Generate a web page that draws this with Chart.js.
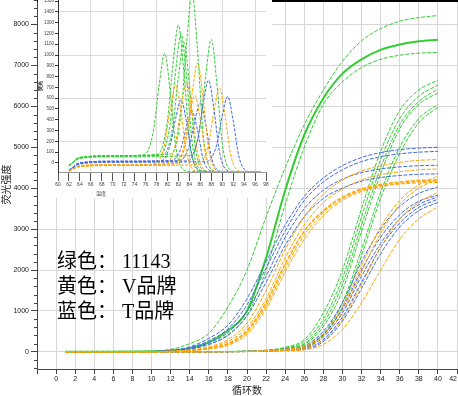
<!DOCTYPE html>
<html>
<head>
<meta charset="utf-8">
<title>扩增曲线</title>
<script src="https://cdn.jsdelivr.net/npm/chart.js@4.4.1/dist/chart.umd.min.js"></script>
<style>
  body { margin: 0; background: #fff; }
  #box { position: relative; width: 458px; height: 396px; overflow: hidden; }
  #main { position: absolute; left: 0; top: 0; }
  #inset { position: absolute; left: 38px; top: 0; }
  #note { position: absolute; left: 57px; top: 249px; font-size: 20px; line-height: 25px;
          font-family: "Liberation Serif", "Noto Sans CJK SC", serif; color: #000; white-space: pre; }
</style>
</head>
<body>
<div id="box">
  <canvas id="main" width="458" height="396"></canvas>
  <canvas id="inset" width="234" height="198"></canvas>
  <div id="note">绿色： 11143
黄色： V品牌
蓝色： T品牌</div>
</div>
<script>
// amplification curves, values read at these cycles
var cycles = [1, 10, 12, 14, 16, 18, 20, 22, 24, 26, 28, 30, 32, 34, 36, 38, 40];

var greenEarly1 = [0, 20, 60, 200, 450, 1100, 2000, 3300, 4500, 5550, 6400, 7100, 7600, 7900, 8080, 8170, 8220];
var greenEarly2 = [0, 10, 30, 90, 230, 520, 1000, 2300, 3950, 5300, 6200, 6800, 7150, 7380, 7510, 7590, 7630];
var greenEarly3 = [0, 10, 25, 70, 180, 420, 900, 2000, 3600, 5000, 6050, 6600, 6950, 7150, 7250, 7300, 7320];

var blueEarly1 = [0, 10, 40, 120, 330, 650, 1300, 2200, 3100, 3800, 4250, 4550, 4750, 4870, 4940, 4980, 5000];
var blueEarly2 = [0, 8, 30, 100, 270, 560, 1150, 2050, 2950, 3700, 4150, 4450, 4650, 4770, 4840, 4880, 4900];
var blueEarly3 = [0, 6, 25, 80, 220, 470, 1000, 1850, 2800, 3500, 3950, 4220, 4380, 4470, 4520, 4550, 4560];
var blueEarly4 = [0, 5, 20, 65, 180, 400, 880, 1700, 2600, 3300, 3750, 4000, 4170, 4260, 4310, 4340, 4350];

var orangeEarly1 = [0, 4, 15, 45, 120, 300, 700, 1500, 2500, 3300, 3850, 4200, 4420, 4550, 4630, 4680, 4700];
var orangeEarly2 = [0, 4, 12, 40, 100, 250, 600, 1300, 2300, 3100, 3650, 3980, 4200, 4330, 4400, 4450, 4470];
var orangeEarly3 = [0, 3, 10, 35, 90, 200, 520, 1200, 2150, 2950, 3450, 3780, 3980, 4090, 4150, 4190, 4200];
var orangeEarly4 = [0, 3, 10, 30, 80, 180, 480, 1120, 2050, 2850, 3400, 3740, 3950, 4060, 4120, 4160, 4170];
var orangeEarly5 = [0, 2, 8, 25, 70, 160, 430, 1050, 1950, 2750, 3330, 3700, 3920, 4040, 4100, 4130, 4140];

var greenLate1 = [0, 0, 0, 0, 5, 10, 20, 40, 110, 300, 950, 2000, 3500, 4900, 5900, 6400, 6640];
var greenLate2 = [0, 0, 0, 0, 4, 8, 15, 35, 90, 250, 800, 1800, 3300, 4700, 5700, 6250, 6520];
var greenLate3 = [0, 0, 0, 0, 3, 6, 12, 30, 80, 200, 700, 1650, 3100, 4500, 5550, 6120, 6420];
var greenLate4 = [0, 0, 0, 0, 3, 6, 12, 28, 70, 180, 620, 1500, 2950, 4350, 5450, 6050, 6330];
var greenLate5 = [0, 0, 0, 0, 2, 5, 10, 22, 50, 120, 450, 1200, 2500, 3900, 5000, 5700, 6050];
var greenLate6 = [0, 0, 0, 0, 2, 4, 8, 20, 45, 100, 400, 1100, 2350, 3750, 4850, 5600, 5980];

var blueLate1 = [0, 0, 0, 0, 3, 6, 12, 30, 70, 150, 500, 1200, 2200, 3000, 3550, 3870, 4030];
var blueLate2 = [0, 0, 0, 0, 2, 5, 10, 25, 60, 120, 420, 1050, 2000, 2800, 3350, 3680, 3830];
var blueLate3 = [0, 0, 0, 0, 2, 4, 8, 20, 50, 100, 360, 950, 1850, 2650, 3250, 3600, 3790];
var blueLate4 = [0, 0, 0, 0, 2, 4, 8, 18, 40, 80, 300, 850, 1700, 2550, 3150, 3530, 3730];
var blueLate5 = [0, 0, 0, 0, 1, 3, 6, 15, 35, 60, 250, 750, 1550, 2400, 3050, 3450, 3650];

var orangeLate1 = [0, 0, 0, 0, 3, 6, 12, 28, 65, 140, 450, 1100, 2100, 3050, 3700, 4080, 4300];
var orangeLate2 = [0, 0, 0, 0, 2, 5, 10, 24, 55, 110, 380, 980, 1950, 2900, 3600, 4000, 4230];
var orangeLate3 = [0, 0, 0, 0, 2, 4, 8, 18, 40, 80, 280, 800, 1650, 2550, 3250, 3650, 3900];
var orangeLate4 = [0, 0, 0, 0, 1, 2, 5, 12, 25, 50, 180, 550, 1200, 2000, 2750, 3250, 3545];

var yTicks = [0, 1000, 2000, 3000, 4000, 5000, 6000, 7000, 8000];
var insetYTicks = [0, 100, 200, 300, 400, 500, 600, 700, 800, 900, 1000, 1100, 1200, 1300, 1400, 1500];

// melt peaks in the inset, [temperature, value]
var meltGreen1 = [[62,-25],[64,50],[70,65],[75.5,75],[76.5,120],[77.5,320],[78.5,730],[79.5,1015],[80.5,660],[81.5,160],[82.5,-40],[84,-78],[97,-82]];
var meltGreen2 = [[62,-25],[64,50],[70,65],[78,78],[79,140],[80,395],[81,915],[82,1275],[83,840],[84,215],[85,-30],[86.5,-80],[97,-82]];
var meltGreen3 = [[62,-26],[64,46],[70,61],[78.5,72],[79.5,130],[80.5,367],[81.5,856],[82.5,1196],[83.5,786],[84.5,198],[85.5,-33],[87,-80],[97,-82]];
var meltGreen4 = [[62,-24],[64,51],[70,66],[79,76],[80,129],[81,349],[82,801],[83,1116],[84,732],[85,180],[86,-36],[87.5,-80],[97,-82]];
var meltGreen5 = [[62,-24],[64,51],[70,66],[80.5,81],[81.5,156],[82.5,471],[83.5,1116],[84.5,1566],[85.5,1038],[86.5,279],[87.5,-18],[89,-79],[97,-82]];
var meltGreen6 = [[62,-29],[64,42],[70,56],[84,67],[85,121],[86,350],[87,819],[88,1146],[89,752],[90,187],[91,-35],[92.5,-80],[97,-82]];
var meltOrange1 = [[62,-74],[64,-29],[70,-19],[77.5,-12],[78.5,25],[79.5,179],[80.5,496],[81.5,716],[82.5,460],[83.5,92],[84.5,-52],[86,-81],[97,-82]];
var meltOrange2 = [[62,-74],[64,-29],[70,-19],[79.5,-11],[80.5,27],[81.5,188],[82.5,517],[83.5,746],[84.5,480],[85.5,99],[86.5,-51],[88,-81],[97,-82]];
var meltOrange3 = [[62,-76],[64,-34],[70,-24],[81,-17],[82,15],[83,152],[84,431],[85,626],[86,399],[87,72],[88,-56],[89.5,-82],[97,-82]];
var meltOrange4 = [[62,-72],[64,-24],[70,-14],[81.5,-5],[82.5,42],[83.5,240],[84.5,644],[85.5,926],[86.5,603],[87.5,138],[88.5,-44],[90,-81],[97,-82]];
var meltOrange5 = [[62,-76],[64,-34],[70,-24],[85.5,-17],[86.5,19],[87.5,170],[88.5,480],[89.5,696],[90.5,446],[91.5,88],[92.5,-53],[94,-82],[97,-82]];
var meltBlue1 = [[62,-69],[64,-4],[70,11],[78.5,17],[79.5,46],[80.5,166],[81.5,414],[82.5,586],[83.5,372],[84.5,63],[85.5,-57],[87,-82],[97,-82]];
var meltBlue2 = [[62,-69],[64,1],[70,16],[82,21],[83,48],[84,162],[85,394],[86,556],[87,351],[88,57],[89,-58],[90.5,-82],[97,-82]];
var meltBlue3 = [[62,-69],[64,-4],[70,11],[83.5,19],[84.5,56],[85.5,215],[86.5,540],[87.5,766],[88.5,494],[89.5,103],[90.5,-50],[92,-81],[97,-82]];
var meltBlue4 = [[62,-70],[64,-9],[70,6],[87,12],[88,43],[89,171],[90,433],[91,616],[92,392],[93,70],[94,-56],[95.5,-82],[97,-82]];
var meltBlue5 = [[62,-69],[64,1],[70,16],[80.5,21],[81.5,44],[82.5,140],[83.5,338],[84.5,476],[85.5,297],[86.5,39],[87.5,-62],[89,-82],[97,-82]];

var GREEN = '#33cc33', ORANGE = '#ffa500', BLUE = '#4169e1';

Chart.defaults.font.family = '"Liberation Sans", Arial, sans-serif';
Chart.defaults.color = '#222';

function curve(vals, color, width, dash) {
    return {
        data: cycles.map(function(c, i) { return {x: c, y: vals[i]}; }),
        borderColor: color,
        borderWidth: width,
        borderDash: dash,
        pointRadius: 0,
        fill: false,
        cubicInterpolationMode: 'monotone'
    };
}

function meltCurve(pairs, color) {
    return {
        data: pairs,
        borderColor: color,
        borderWidth: 1,
        borderDash: [3, 1.5],
        pointRadius: 0,
        fill: false,
        cubicInterpolationMode: 'monotone'
    };
}

var dash = [4, 1.5];
var mainSets = [
    curve(orangeEarly1, ORANGE, 1, dash), curve(orangeEarly2, ORANGE, 1, dash), curve(orangeEarly3, ORANGE, 1.5, dash),
    curve(orangeEarly4, ORANGE, 1, dash), curve(orangeEarly5, ORANGE, 1, dash),
    curve(orangeLate1, ORANGE, 1, dash), curve(orangeLate2, ORANGE, 1, dash), curve(orangeLate3, ORANGE, 1, dash), curve(orangeLate4, ORANGE, 1, dash),
    curve(blueEarly1, BLUE, 1, dash), curve(blueEarly2, BLUE, 1, dash), curve(blueEarly3, BLUE, 1, dash), curve(blueEarly4, BLUE, 1, dash),
    curve(blueLate1, BLUE, 1, dash), curve(blueLate2, BLUE, 1, dash), curve(blueLate3, BLUE, 1, dash), curve(blueLate4, BLUE, 1, dash), curve(blueLate5, BLUE, 1, dash),
    curve(greenLate1, GREEN, 1, dash), curve(greenLate2, GREEN, 1, dash), curve(greenLate3, GREEN, 1, dash),
    curve(greenLate4, GREEN, 1, dash), curve(greenLate5, GREEN, 1, dash), curve(greenLate6, GREEN, 1, dash),
    curve(greenEarly1, GREEN, 1, dash), curve(greenEarly3, GREEN, 1, dash), curve(greenEarly2, GREEN, 2, [])
];

//minor ticks on the y axis and the black frame line on top
var mainExtras = {
    id: 'mainExtras',
    afterDraw: function(chart) {
        var ctx = chart.ctx, y = chart.scales.y, area = chart.chartArea;
        ctx.save();
        ctx.strokeStyle = '#444';
        ctx.lineWidth = 1;
        for (var v = -400; v <= 8600; v += 200) {
            if (v % 1000 === 0) continue;
            var py = Math.round(y.getPixelForValue(v)) + 0.5;
            ctx.beginPath();
            ctx.moveTo(area.left - 3, py);
            ctx.lineTo(area.left, py);
            ctx.stroke();
        }
        ctx.fillStyle = '#000';
        ctx.fillRect(area.left, 0, area.right - area.left + 1, 2);
        ctx.restore();
    }
};

new Chart(document.getElementById('main'), {
    type: 'line',
    data: { datasets: mainSets },
    options: {
        responsive: false,
        animation: false,
        layout: { padding: { left: 0, right: 1, top: 0, bottom: 0 } },
        plugins: { legend: { display: false }, tooltip: { enabled: false } },
        scales: {
            x: {
                type: 'linear',
                min: -2,
                max: 42,
                ticks: {
                    stepSize: 2,
                    align: 'inner',
                    padding: 1,
                    font: { size: 7 },
                    callback: function(v) { return v < 0 ? '' : String(v); }
                },
                grid: { color: '#d6d6d6', tickColor: '#444', tickLength: 5 },
                border: { color: '#444' },
                title: {
                    display: true,
                    text: '循环数',
                    font: { size: 10, family: '"Noto Sans CJK SC", sans-serif' },
                    padding: { top: 0, bottom: 0 }
                },
                afterFit: function(scale) {
                    scale.height = 27;
                    scale.paddingLeft = 0;
                    scale.paddingRight = 0;
                }
            },
            y: {
                min: -420,
                max: 8600,
                afterBuildTicks: function(scale) {
                    scale.ticks = yTicks.map(function(v) { return {value: v}; });
                },
                ticks: { padding: 2, font: { size: 7 }, callback: function(v) { return String(v); } },
                grid: { color: '#d6d6d6', tickColor: '#444', tickLength: 6 },
                border: { color: '#444' },
                title: {
                    display: true,
                    text: '荧光强度',
                    font: { size: 10, family: '"Noto Sans CJK SC", sans-serif' },
                    padding: 0
                },
                afterFit: function(scale) {
                    scale.width = 37;
                    scale.paddingTop = 0;
                    scale.paddingBottom = 0;
                }
            }
        }
    },
    plugins: [mainExtras]
});

var insetSets = [
    meltCurve(meltOrange1, ORANGE), meltCurve(meltOrange2, ORANGE), meltCurve(meltOrange3, ORANGE),
    meltCurve(meltOrange4, ORANGE), meltCurve(meltOrange5, ORANGE),
    meltCurve(meltBlue1, BLUE), meltCurve(meltBlue2, BLUE), meltCurve(meltBlue3, BLUE),
    meltCurve(meltBlue4, BLUE), meltCurve(meltBlue5, BLUE),
    meltCurve(meltGreen1, GREEN), meltCurve(meltGreen2, GREEN), meltCurve(meltGreen3, GREEN),
    meltCurve(meltGreen4, GREEN), meltCurve(meltGreen5, GREEN), meltCurve(meltGreen6, GREEN)
];

var insetBack = {
    id: 'insetBack',
    beforeDraw: function(chart) {
        var ctx = chart.ctx;
        ctx.save();
        ctx.fillStyle = '#fff';
        ctx.fillRect(0, 0, chart.width, chart.height);
        ctx.fillStyle = '#333';
        ctx.font = '5px "Noto Sans CJK SC", sans-serif';
        ctx.fillText('温度', 58, 195);
        ctx.restore();
    }
};

new Chart(document.getElementById('inset'), {
    type: 'line',
    data: { datasets: insetSets },
    options: {
        responsive: false,
        animation: false,
        layout: { padding: { left: 0, right: 6, top: 0, bottom: 0 } },
        plugins: { legend: { display: false }, tooltip: { enabled: false } },
        scales: {
            x: {
                type: 'linear',
                min: 60,
                max: 98,
                ticks: { stepSize: 2, autoSkip: false, maxRotation: 0, padding: 1, font: { size: 5 }, color: '#444' },
                grid: {
                    color: function(c) { return (c.tick && c.tick.value % 6 === 0) ? '#dadada' : 'rgba(0,0,0,0)'; },
                    tickColor: '#555',
                    tickLength: 9
                },
                border: { color: '#999' },
                afterFit: function(scale) {
                    scale.height = 26;
                    scale.paddingLeft = 0;
                    scale.paddingRight = 0;
                }
            },
            y: {
                min: -84,
                max: 1510,
                afterBuildTicks: function(scale) {
                    scale.ticks = insetYTicks.map(function(v) { return {value: v}; });
                },
                ticks: { autoSkip: false, padding: 1, font: { size: 4.5 }, color: '#444', callback: function(v) { return String(v); } },
                grid: {
                    color: function(c) { return (c.tick && (c.tick.value - 200) % 400 === 0) ? '#dadada' : 'rgba(0,0,0,0)'; },
                    tickColor: '#333',
                    tickLength: 3
                },
                border: { color: '#333' },
                title: { display: true, text: '荧光', font: { size: 5, weight: 'bold' }, padding: 0, color: '#000' },
                afterFit: function(scale) {
                    scale.width = 20;
                    scale.paddingTop = 0;
                    scale.paddingBottom = 0;
                }
            }
        }
    },
    plugins: [insetBack]
});
</script>
</body>
</html>
